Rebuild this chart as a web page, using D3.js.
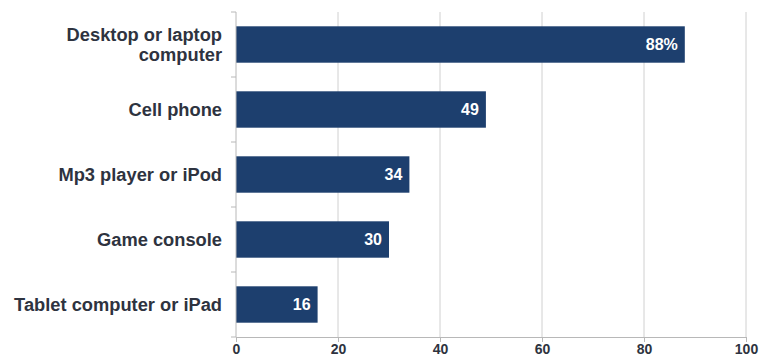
<!DOCTYPE html>
<html>
<head>
<meta charset="utf-8">
<script src="https://cdn.jsdelivr.net/npm/d3@7"></script>
<style>
  body { margin: 0; background: #fff; }
  text { font-family: "Liberation Sans", Arial, sans-serif; }
</style>
</head>
<body>
<div id="chart"></div>
<script>
// devices used, percent
let categories = ["Desktop or laptop computer", "Cell phone", "Mp3 player or iPod", "Game console", "Tablet computer or iPad"];
let values = [88, 49, 34, 30, 16];
let valueLabels = ["88%", "49", "34", "30", "16"];
let xTicks = [0, 20, 40, 60, 80, 100];

let width = 759;
let height = 362;
let margin = { top: 12, right: 13, bottom: 25, left: 236 };
let innerW = width - margin.left - margin.right;
let innerH = height - margin.top - margin.bottom;

let svg = d3.select("#chart").append("svg")
  .attr("width", width)
  .attr("height", height);

let g = svg.append("g")
  .attr("transform", `translate(${margin.left}, ${margin.top})`);

let xScale = d3.scaleLinear()
  .domain([0, 100])
  .range([0, innerW]);
let yScale = d3.scaleBand()
  .domain(categories)
  .range([0, innerH])
  .paddingInner(0.44)
  .paddingOuter(0.22);

// grid lines
g.selectAll("line.grid").data(xTicks.slice(1))
  .enter().append("line")
  .classed("grid", true)
  .attr("x1", d => xScale(d))
  .attr("x2", d => xScale(d))
  .attr("y1", 0)
  .attr("y2", innerH)
  .style("stroke", "#d0d0d0")
  .style("stroke-width", 1);

// bars
g.selectAll("rect.bar").data(values)
  .enter().append("rect")
  .classed("bar", true)
  .attr("x", xScale(0))
  .attr("y", (d, i) => yScale(categories[i]))
  .attr("width", d => xScale(d) - xScale(0))
  .attr("height", yScale.bandwidth())
  .attr("fill", "#1d3f6e");

// value labels
g.selectAll("text.val").data(values)
  .enter().append("text")
  .classed("val", true)
  .attr("x", d => xScale(d) - 7)
  .attr("y", (d, i) => yScale(categories[i]) + yScale.bandwidth() / 2)
  .attr("dy", "0.36em")
  .attr("text-anchor", "end")
  .style("fill", "#fff")
  .style("font-weight", "bold")
  .style("font-size", "16px")
  .text((d, i) => valueLabels[i]);

// x axis
let xAxis = d3.axisBottom(xScale)
  .tickValues(xTicks)
  .tickSize(5)
  .tickPadding(2)
  .tickFormat(d3.format("d"));
let gX = g.append("g")
  .attr("transform", `translate(0, ${innerH})`)
  .call(xAxis);
gX.select(".domain").style("stroke", "#b8b8b8");
gX.selectAll(".tick line").style("stroke", "#b8b8b8");
gX.selectAll(".tick text")
  .style("font-size", "14px")
  .style("font-weight", "bold")
  .style("fill", "#2e3340")
  .style("font-family", "'Liberation Sans', Arial, sans-serif");

// y axis line with separators
g.append("line")
  .attr("x1", 0).attr("x2", 0)
  .attr("y1", 0).attr("y2", innerH)
  .style("stroke", "#b8b8b8");
let step = yScale.step();
let seps = d3.range(categories.length + 1);
g.selectAll("line.sep").data(seps)
  .enter().append("line")
  .classed("sep", true)
  .attr("x1", -5).attr("x2", 0)
  .attr("y1", d => yScale(categories[0]) - yScale.paddingInner() * step / 2 + d * step)
  .attr("y2", d => yScale(categories[0]) - yScale.paddingInner() * step / 2 + d * step)
  .style("stroke", "#b8b8b8");

// category labels
let catLines = [["Desktop or laptop", "computer"], ["Cell phone"], ["Mp3 player or iPod"], ["Game console"], ["Tablet computer or iPad"]];
let catText = g.selectAll("text.cat").data(categories)
  .enter().append("text")
  .classed("cat", true)
  .attr("x", -14)
  .attr("y", d => yScale(d) + yScale.bandwidth() / 2)
  .attr("text-anchor", "end")
  .style("font-size", "18.3px")
  .style("font-weight", "bold")
  .style("fill", "#2e3340");
catText.each(function(d, i) {
  let lines = catLines[i];
  let t = d3.select(this);
  lines.forEach((line, j) => {
    t.append("tspan")
      .attr("x", -14)
      .attr("dy", j === 0 ? (0.36 - (lines.length - 1) * 0.53) + "em" : "1.06em")
      .text(line);
  });
});
</script>
</body>
</html>
